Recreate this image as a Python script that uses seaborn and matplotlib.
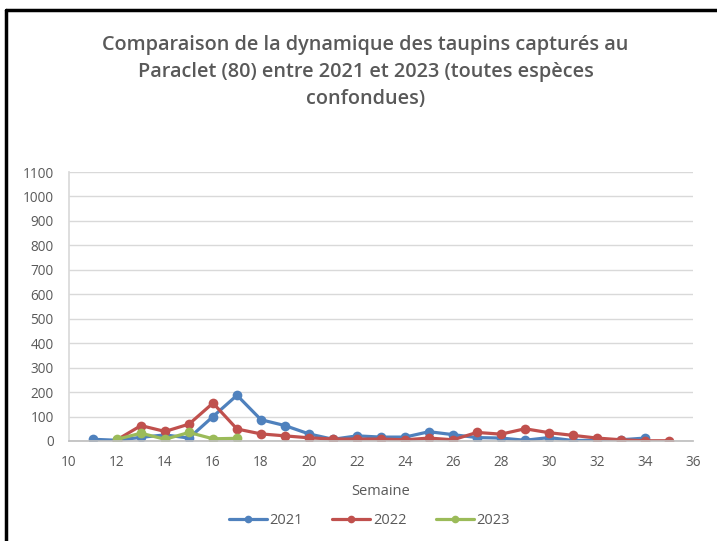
import matplotlib
matplotlib.use("Agg")
import matplotlib.pyplot as plt
from matplotlib.lines import Line2D
import seaborn as sns
import pandas as pd

weeks_2021 = list(range(11, 35))
values_2021 = [7, 3, 15, 25, 12, 100, 187, 87, 63, 29, 7, 21, 16, 16, 38, 26, 14, 12, 3, 14, 2, 3, 5, 12]
weeks_2022 = list(range(12, 36))
values_2022 = [5, 63, 39, 69, 155, 49, 29, 21, 13, 8, 8, 8, 5, 12, 5, 35, 28, 50, 34, 23, 12, 5, 1, 1]
weeks_2023 = list(range(12, 18))
values_2023 = [7, 32, 7, 35, 9, 11]
years = ["2021", "2022", "2023"]
colors = ["#4F81BD", "#C0504D", "#9BBB59"]
x_ticks = list(range(10, 37, 2))
y_ticks = list(range(0, 1101, 100))
title = "Comparaison de la dynamique des taupins capturés au\nParaclet (80) entre 2021 et 2023 (toutes espèces\nconfondues)"

rows = []
for yr, wk, vals in zip(years, [weeks_2021, weeks_2022, weeks_2023], [values_2021, values_2022, values_2023]):
    for w, v in zip(wk, vals):
        rows.append({"Semaine": w, "Valeur": v, "Année": yr})
df = pd.DataFrame(rows)

sns.set_theme(style="white")
plt.rcParams['font.family'] = ['Open Sans', 'DejaVu Sans']
txt = "#595959"

fig = plt.figure(figsize=(7.17, 5.41), dpi=100)
ax = fig.add_axes([69/717, 1-441/541, (693-69)/717, (441-172)/541])

sns.lineplot(data=df, x="Semaine", y="Valeur", hue="Année", hue_order=years,
             palette=colors, marker="o", markersize=7, markeredgewidth=0,
             linewidth=2.3, ax=ax, legend=False, sort=False)

ax.set_xlim(10, 36)
ax.set_ylim(0, 1100)
ax.set_xticks(x_ticks)
ax.set_yticks(y_ticks)
ax.tick_params(axis="both", length=0, labelsize=9.8, colors=txt)
ax.tick_params(axis="x", pad=10)
ax.tick_params(axis="y", pad=11)
ax.grid(axis="y", color="#D9D9D9", linewidth=1)
ax.set_axisbelow(True)
for s in ["top", "right"]:
    ax.spines[s].set_visible(False)
ax.spines["left"].set_color("#D9D9D9")
ax.spines["bottom"].set_color("#BFBFBF")
ax.set_xlabel("Semaine", fontsize=10.5, color=txt, labelpad=10)
ax.set_ylabel("")

fig.text(0.51, 1-72/541, title, ha="center", va="center", fontsize=14.3,
         fontweight="semibold", color=txt, linespacing=1.45)

handles = [Line2D([0], [0], color=c, lw=2.3, marker="o", markersize=4.5) for c in colors]
fig.legend(handles, years, loc="center", bbox_to_anchor=(0.515, 1-521/541), ncol=3,
           frameon=False, fontsize=10.5, labelcolor=txt, handlelength=2.6,
           columnspacing=2.0, handletextpad=0.2)

fig.add_artist(Line2D([6.5/717, 6.5/717], [0, 1-9.5/541], color="black", lw=2.5, transform=fig.transFigure))
fig.add_artist(Line2D([6.5/717, 1], [1-9.5/541, 1-9.5/541], color="black", lw=2.5, transform=fig.transFigure))

fig.savefig("out.png", dpi=100)
